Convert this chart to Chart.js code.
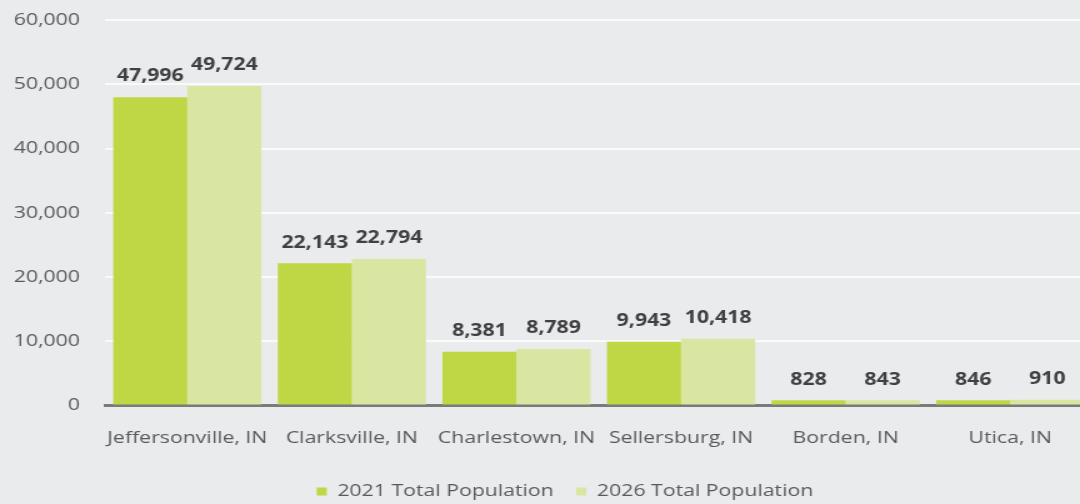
<!DOCTYPE html>
<html>
<head>
<meta charset="utf-8">
<script src="https://cdn.jsdelivr.net/npm/chart.js@4"></script>
<style>
  html, body { margin: 0; padding: 0; background: #eaebed; overflow: hidden; }
  /* chart is laid out narrow and stretched sideways */
  #wrap { width: 874px; height: 504px; position: relative; transform: scaleX(1.25); transform-origin: 0 0; }
</style>
</head>
<body>
<div id="wrap"><canvas id="popChart"></canvas></div>
<script>
const cities = ['Jeffersonville, IN', 'Clarksville, IN', 'Charlestown, IN', 'Sellersburg, IN', 'Borden, IN', 'Utica, IN'];
const pop2021 = [47996, 22143, 8381, 9943, 828, 846];
const pop2026 = [49724, 22794, 8789, 10418, 843, 910];
const seriesNames = ['2021 Total Population', '2026 Total Population'];
const yMax = 60000;
const yStep = 10000;

const fontFamily = "'Open Sans', sans-serif";

// value labels above each bar
const barValues = {
    id: 'barValues',
    afterDatasetsDraw(chart) {
        const ctx = chart.ctx;
        ctx.save();
        ctx.font = 'bold 17px ' + fontFamily;
        ctx.fillStyle = '#404040';
        ctx.textAlign = 'center';
        ctx.textBaseline = 'bottom';
        chart.data.datasets.forEach((ds, i) => {
            chart.getDatasetMeta(i).data.forEach((bar, j) => {
                ctx.fillText(ds.data[j].toLocaleString('en-US'), bar.x, bar.y - 12);
            });
        });
        ctx.restore();
    }
};

// nudge the legend a little to the right of centre
const legendShift = {
    id: 'legendShift',
    afterLayout(chart) {
        chart.legend.left += 15;
        chart.legend.right += 15;
    }
};

const ctx = document.getElementById('popChart').getContext('2d');
const popChart = new Chart(ctx, {
    type: 'bar',
    data: {
        labels: cities,
        datasets: [{
            label: seriesNames[0],
            data: pop2021,
            backgroundColor: '#bfd745'
        },
        {
            label: seriesNames[1],
            data: pop2026,
            backgroundColor: '#d9e6a2'
        }]
    },
    options: {
        responsive: true,
        maintainAspectRatio: false,
        animation: false,
        layout: { padding: { top: 20, right: 0, bottom: -6, left: 0 } },
        datasets: {
            bar: { categoryPercentage: 0.9, barPercentage: 1.0 }
        },
        scales: {
            x: {
                afterFit: scale => { scale.height -= 5; },
                grid: { display: false, drawTicks: false },
                border: { color: '#7a7a7a', width: 3 },
                ticks: {
                    color: '#595959',
                    font: { family: fontFamily, size: 17 },
                    padding: 22,
                    maxRotation: 0
                }
            },
            y: {
                min: 0,
                max: yMax,
                afterFit: scale => {
                    scale.width = 84;
                    scale.paddingTop = 0;
                },
                grid: { color: '#fafafa', lineWidth: 2, drawTicks: false },
                border: { display: false },
                ticks: {
                    stepSize: yStep,
                    color: '#595959',
                    padding: 20,
                    font: { family: fontFamily, size: 17 },
                    callback: v => v.toLocaleString('en-US')
                }
            }
        },
        plugins: {
            legend: {
                position: 'bottom',
                labels: {
                    color: '#595959',
                    font: { family: fontFamily, size: 17 },
                    boxWidth: 8,
                    boxHeight: 8,
                    padding: 18
                }
            },
            tooltip: { enabled: false }
        }
    },
    plugins: [barValues, legendShift]
});
</script>
</body>
</html>
